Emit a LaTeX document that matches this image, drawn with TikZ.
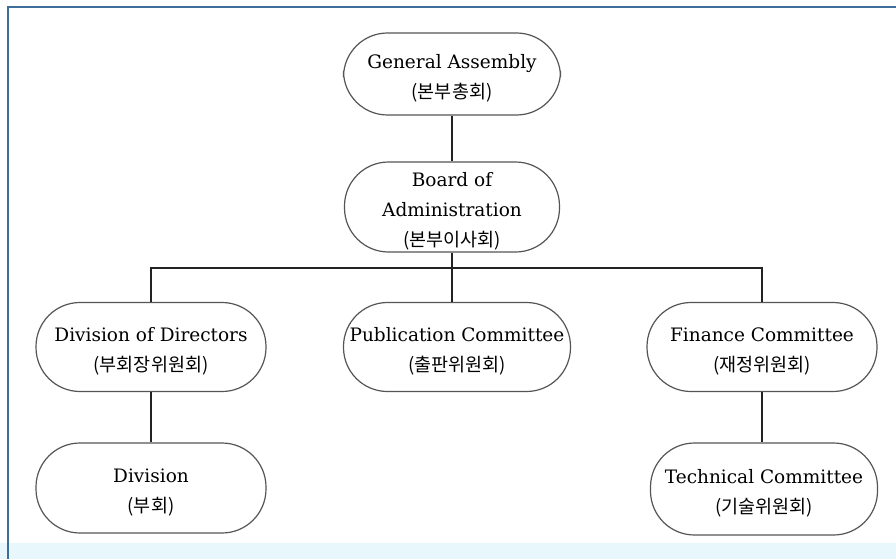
\documentclass[tikz,border=0pt]{standalone}
\usepackage{fontspec}
\setmainfont{DejaVu Serif}
\newfontfamily\kr{Noto Sans CJK KR}
\definecolor{framebl}{HTML}{3D6E99}
\definecolor{stripcy}{HTML}{E8F7FC}
\definecolor{nodegr}{HTML}{555555}
\definecolor{linegr}{HTML}{222222}
\newcommand{\krt}[1]{{\kr\fontsize{18.5}{30}\selectfont #1}}
\newcommand{\tstrut}{\rule{0pt}{23pt}}
\begin{document}
\begin{tikzpicture}[x=1pt,y=-1pt,
  orgbox/.style={draw=nodegr, line width=1.2pt, rounded corners=44pt, fill=white,
    align=center, inner sep=0pt, font=\fontsize{18.5}{30}\selectfont, text=black},
  conn/.style={draw=linegr, line width=2.2pt}]
\useasboundingbox (0,0) rectangle (896,559);
\fill[white] (0,0) rectangle (896,559);
\fill[stripcy] (0,543) rectangle (896,559);
\draw[framebl, line width=2pt] (8,559) -- (8,7) -- (896,7);
% nodes
\node[orgbox, minimum width=217, minimum height=82] (ga) at (452,74)
  {\tstrut General Assembly\\\krt{(본부총회)}};
\node[orgbox, minimum width=215, minimum height=90] (board) at (452,207)
  {\tstrut Board of\\Administration\\\krt{(본부이사회)}};
\node[orgbox, minimum width=230, minimum height=89] (dod) at (151,347)
  {\tstrut Division of Directors\\\krt{(부회장위원회)}};
\node[orgbox, minimum width=227, minimum height=89] (pub) at (457,347)
  {\tstrut Publication Committee\\\krt{(출판위원회)}};
\node[orgbox, minimum width=230, minimum height=89] (fin) at (762,347)
  {\tstrut Finance Committee\\\krt{(재정위원회)}};
\node[orgbox, minimum width=230, minimum height=90] (div) at (151,488)
  {\tstrut Division\\\krt{(부회)}};
\node[orgbox, minimum width=227, minimum height=92] (tech) at (764,489)
  {\tstrut Technical Committee\\\krt{(기술위원회)}};
% connectors
\coordinate (bus) at (452,268);
\draw[conn] (ga) -- (board);
\draw[conn] (board.south) -- (board.south |- pub.north);
\draw[conn] (dod.north) |- (bus) -| (fin.north);
\draw[conn] (dod) -- (div);
\draw[conn] (fin.south) -- (fin.south |- tech.north);
\end{tikzpicture}
\end{document}
